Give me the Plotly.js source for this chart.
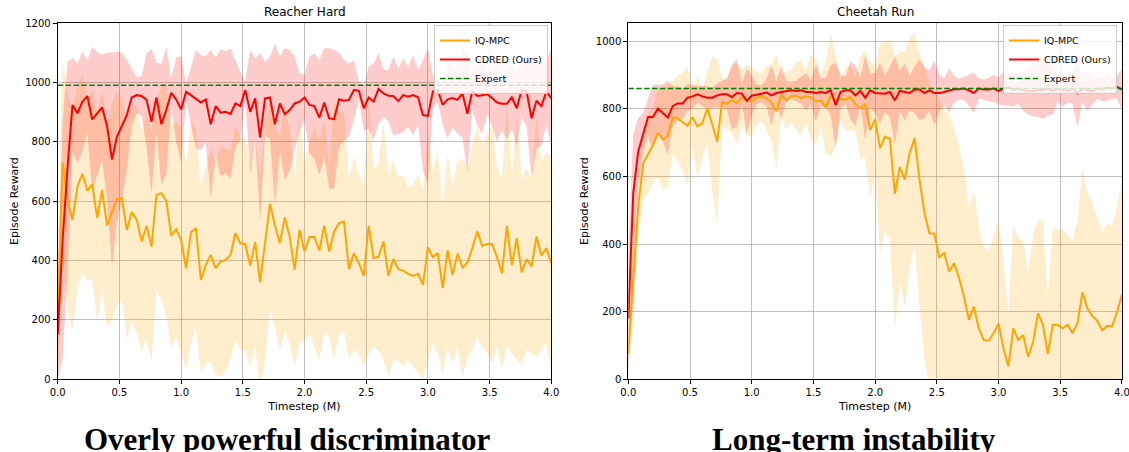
<!DOCTYPE html>
<html>
<head>
<meta charset="utf-8">
<script src="https://cdn.plot.ly/plotly-3.0.1.min.js"></script>
<style>html,body{margin:0;padding:0;background:#fff;}#chart{width:1129px;height:452px;}</style>
</head>
<body>
<div id="chart"></div>
<script>
// Timestep (millions)
const timestepM = [
 0,0.04,0.08,0.12,0.16,0.2,0.24,0.28,0.32,0.36,
 0.4,0.44,0.48,0.52,0.56,0.6,0.64,0.68,0.72,0.76,
 0.8,0.84,0.88,0.92,0.96,1,1.04,1.08,1.12,1.16,
 1.2,1.24,1.28,1.32,1.36,1.4,1.44,1.48,1.52,1.56,
 1.6,1.64,1.68,1.72,1.76,1.8,1.84,1.88,1.92,1.96,
 2,2.04,2.08,2.12,2.16,2.2,2.24,2.28,2.32,2.36,
 2.4,2.44,2.48,2.52,2.56,2.6,2.64,2.68,2.72,2.76,
 2.8,2.84,2.88,2.92,2.96,3,3.04,3.08,3.12,3.16,
 3.2,3.24,3.28,3.32,3.36,3.4,3.44,3.48,3.52,3.56,
 3.6,3.64,3.68,3.72,3.76,3.8,3.84,3.88,3.92,3.96,
 4];

// ---- Reacher Hard ----
const reacherCdredMean = [
 150,470,715,924,896,935,954,875,896,916,
 853,740,817,851,890,949,957,954,941,867,
 949,859,907,965,943,909,968,957,943,932,
 943,859,920,898,901,894,929,920,974,901,
 946,815,946,949,859,929,893,907,929,935,
 949,924,920,881,932,879,876,943,938,941,
 974,972,913,949,935,978,963,955,954,937,
 957,952,957,950,890,887,969,974,924,943,
 947,941,963,894,971,954,957,961,947,932,
 928,928,950,913,974,969,879,938,920,969,
 947];
const reacherCdredStd = [
 150,400,355,157,168,168,121,243,207,176,
 248,360,286,250,185,98,60,67,157,245,
 117,205,213,49,141,180,31,96,164,160,
 144,250,164,213,205,219,146,115,30,208,
 135,283,123,138,272,158,222,202,158,96,
 76,163,178,194,183,236,233,157,137,123,
 101,30,77,104,129,120,79,87,133,110,
 124,101,135,92,185,228,56,40,67,132,
 100,112,150,200,65,99,130,70,95,132,
 91,119,108,129,90,118,200,160,133,112,
 162];
const reacherIqMean = [
 200,731,599,537,650,692,635,657,543,638,
 518,565,607,610,503,563,537,464,517,447,
 621,627,601,484,506,470,374,495,509,335,
 385,419,374,397,402,419,492,458,455,383,
 462,327,458,591,520,458,545,480,369,503,
 430,479,479,434,517,430,498,526,531,371,
 425,391,348,517,408,413,464,348,405,371,
 366,355,348,355,318,445,411,425,307,434,
 351,423,376,393,442,498,449,456,456,411,
 357,517,385,475,360,405,380,481,416,442,
 391];
const reacherIqStd = [
 200,345,365,371,338,335,300,322,354,337,
 340,365,362,337,370,363,382,365,384,387,
 320,360,390,374,362,382,343,374,337,315,
 331,359,359,388,376,354,359,359,356,340,
 352,360,393,352,342,359,384,360,320,380,
 298,324,369,369,362,286,433,371,370,300,
 326,303,305,429,298,314,399,339,340,310,
 320,290,305,335,320,380,290,337,287,324,
 297,313,367,317,343,354,339,368,402,301,
 320,407,297,410,310,306,292,405,317,321,
 360];
const reacherExpert = 990;

// ---- Cheetah Run ----
const cheetahCdredMean = [
 180,550,673,727,776,776,801,788,774,808,
 816,816,833,837,843,837,833,833,840,843,
 843,835,847,845,824,839,843,845,848,840,
 847,850,853,855,853,855,850,850,847,850,
 847,855,811,850,855,855,840,853,833,855,
 847,847,845,850,825,853,850,847,857,857,
 847,855,847,847,850,855,858,858,860,855,
 847,860,857,857,860,853,860,863,857,860,
 855,853,853,857,855,860,853,860,857,853,
 860,845,860,855,853,860,857,863,860,865,
 857];
const cheetahCdredStd = [
 200,175,100,60,55,95,70,85,110,60,
 50,45,40,35,25,30,35,30,35,40,
 45,95,100,30,95,60,30,25,40,90,
 35,80,30,25,30,40,55,35,85,40,
 45,75,125,50,40,85,90,40,125,50,
 60,90,55,75,130,60,85,50,70,90,
 75,60,95,55,40,65,40,30,35,45,
 60,30,30,35,40,40,50,55,50,45,
 60,70,75,80,85,80,70,40,50,35,
 45,100,40,60,40,30,35,40,30,35,
 60];
const cheetahIqMean = [
 75,300,510,638,666,693,729,710,720,775,
 772,762,750,775,748,757,801,755,703,820,
 815,827,817,836,823,822,833,836,832,818,
 793,842,825,837,839,832,837,834,822,824,
 805,840,825,830,827,835,814,802,815,738,
 769,684,718,711,549,628,591,669,713,590,
 492,432,431,361,373,319,343,300,245,176,
 215,151,116,114,136,165,92,38,151,116,
 131,66,110,195,161,75,161,161,151,161,
 136,166,257,210,187,173,145,158,157,198,
 250];
const cheetahIqStd = [
 50,120,100,100,120,110,130,150,150,110,
 125,145,175,85,150,100,105,200,245,70,
 75,100,120,80,105,100,80,70,95,110,
 170,60,85,77,100,112,80,124,128,76,
 135,182,135,60,93,95,80,150,160,200,
 160,310,278,295,405,340,378,343,310,375,
 432,448,419,469,427,461,397,390,375,329,
 349,300,276,268,286,306,261,157,305,306,
 276,247,317,276,307,165,289,279,294,264,
 275,304,363,340,333,307,290,302,298,312,
 339];
const cheetahExpert = 860;

const seriesNames = ['IQ-MPC', 'CDRED (Ours)', 'Expert'];
const panelTitles = ['Reacher Hard', 'Cheetah Run'];
const captions = ['Overly powerful discriminator', 'Long-term instability'];
const xTickLabels = ['0.0','0.5','1.0','1.5','2.0','2.5','3.0','3.5','4.0'];

// ---- styling ----
const ORANGE = '#FFA500', RED = '#FF0000', GREEN = '#008000';
const ORANGE_FILL = 'rgba(255,165,0,0.2)', RED_FILL = 'rgba(255,0,0,0.2)';

function band(mean, std, fill, xa, ya) {
  const lo = mean.map((m, i) => m - std[i]);
  const hi = mean.map((m, i) => m + std[i]);
  return [
    {x: timestepM, y: lo, xaxis: xa, yaxis: ya, mode: 'lines', line: {width: 0, color: fill}, showlegend: false, hoverinfo: 'skip'},
    {x: timestepM, y: hi, xaxis: xa, yaxis: ya, mode: 'lines', line: {width: 0, color: fill}, fill: 'tonexty', fillcolor: fill, showlegend: false, hoverinfo: 'skip'}
  ];
}
function lines(iqMean, cdMean, expert, xa, ya, leg) {
  return [
    {x: timestepM, y: iqMean, xaxis: xa, yaxis: ya, mode: 'lines', name: seriesNames[0], line: {color: ORANGE, width: 2}, legend: leg},
    {x: timestepM, y: cdMean, xaxis: xa, yaxis: ya, mode: 'lines', name: seriesNames[1], line: {color: RED, width: 2}, legend: leg},
    {x: [timestepM[0], timestepM[timestepM.length - 1]], y: [expert, expert], xaxis: xa, yaxis: ya, mode: 'lines', name: seriesNames[2], line: {color: GREEN, width: 1.5, dash: '5.5px,2.4px'}, legend: leg}
  ];
}

const data = [].concat(
  band(reacherIqMean, reacherIqStd, ORANGE_FILL, 'x', 'y'),
  band(reacherCdredMean, reacherCdredStd, RED_FILL, 'x', 'y'),
  lines(reacherIqMean, reacherCdredMean, reacherExpert, 'x', 'y', 'legend'),
  band(cheetahIqMean, cheetahIqStd, ORANGE_FILL, 'x2', 'y2'),
  band(cheetahCdredMean, cheetahCdredStd, RED_FILL, 'x2', 'y2'),
  lines(cheetahIqMean, cheetahCdredMean, cheetahExpert, 'x2', 'y2', 'legend2')
);

const W = 1129, H = 452;
const yDom = [1 - 379.3 / H, 1 - 23 / H];
const xDom1 = [57.7 / W, 551.3 / W];
const xDom2 = [628.3 / W, 1121.9 / W];

const tickFont = {family: 'DejaVu Sans', size: 10, color: '#000'};
function xAxis(dom, anchor) {
  return {
    domain: dom, anchor: anchor, range: [0, 4], tickmode: 'array',
    tickvals: xTickLabels.map(Number), ticktext: xTickLabels,
    showgrid: true, gridcolor: '#b0b0b0', gridwidth: 0.8, zeroline: false,
    showline: true, mirror: true, linecolor: '#000', linewidth: 1,
    ticks: 'outside', ticklen: 4, tickwidth: 1, tickcolor: '#000', tickfont: tickFont,
    ticklabeloverflow: 'allow',
    title: {text: 'Timestep (M)', font: {family: 'DejaVu Sans', size: 11, color: '#000'}, standoff: 5},
    automargin: false, fixedrange: true
  };
}
function yAxis(anchor, range, tickvals) {
  return {
    domain: yDom, anchor: anchor, range: range, tickmode: 'array',
    tickvals: tickvals, ticktext: tickvals.map(String),
    showgrid: true, gridcolor: '#b0b0b0', gridwidth: 0.8, zeroline: false,
    showline: true, mirror: true, linecolor: '#000', linewidth: 1,
    ticks: 'outside', ticklen: 4, tickwidth: 1, tickcolor: '#000', tickfont: tickFont,
    ticklabeloverflow: 'allow',
    title: {text: 'Episode Reward', font: {family: 'DejaVu Sans', size: 11, color: '#000'}, standoff: 4},
    automargin: false, fixedrange: true
  };
}
const legendStyle = {
  xanchor: 'right', yanchor: 'top', y: 1 - 25 / H, traceorder: 'normal',
  bgcolor: 'rgba(255,255,255,0.8)', bordercolor: '#cccccc', borderwidth: 1,
  font: {family: 'DejaVu Sans', size: 9.5, color: '#000'}, itemwidth: 30, tracegroupgap: 0
};

const layout = {
  width: W, height: H, margin: {l: 0, r: 0, t: 0, b: 0},
  paper_bgcolor: '#fff', plot_bgcolor: '#fff',
  font: {family: 'DejaVu Sans', size: 10, color: '#000'},
  xaxis: xAxis(xDom1, 'y'),
  yaxis: yAxis('x', [0, 1200], [0, 200, 400, 600, 800, 1000, 1200]),
  xaxis2: xAxis(xDom2, 'y2'),
  yaxis2: yAxis('x2', [0, 1054], [0, 200, 400, 600, 800, 1000]),
  legend: Object.assign({x: 548 / W}, legendStyle),
  legend2: Object.assign({x: 1117 / W}, legendStyle),
  annotations: [
    {text: panelTitles[0], xref: 'paper', yref: 'paper', x: (xDom1[0] + xDom1[1]) / 2, y: 1 - 12 / H, xanchor: 'center', yanchor: 'middle', showarrow: false, font: {family: 'DejaVu Sans', size: 12, color: '#000'}},
    {text: panelTitles[1], xref: 'paper', yref: 'paper', x: (xDom2[0] + xDom2[1]) / 2, y: 1 - 12 / H, xanchor: 'center', yanchor: 'middle', showarrow: false, font: {family: 'DejaVu Sans', size: 12, color: '#000'}},
    {text: captions[0], xref: 'paper', yref: 'paper', x: 287 / W, y: 1 - 439 / H, xanchor: 'center', yanchor: 'middle', showarrow: false, font: {family: 'Liberation Serif', size: 31, weight: 'bold', color: '#000'}},
    {text: captions[1], xref: 'paper', yref: 'paper', x: 854 / W, y: 1 - 439 / H, xanchor: 'center', yanchor: 'middle', showarrow: false, font: {family: 'Liberation Serif', size: 31, weight: 'bold', color: '#000'}}
  ]
};

Plotly.newPlot('chart', data, layout, {staticPlot: true, displayModeBar: false});
</script>
</body>
</html>
